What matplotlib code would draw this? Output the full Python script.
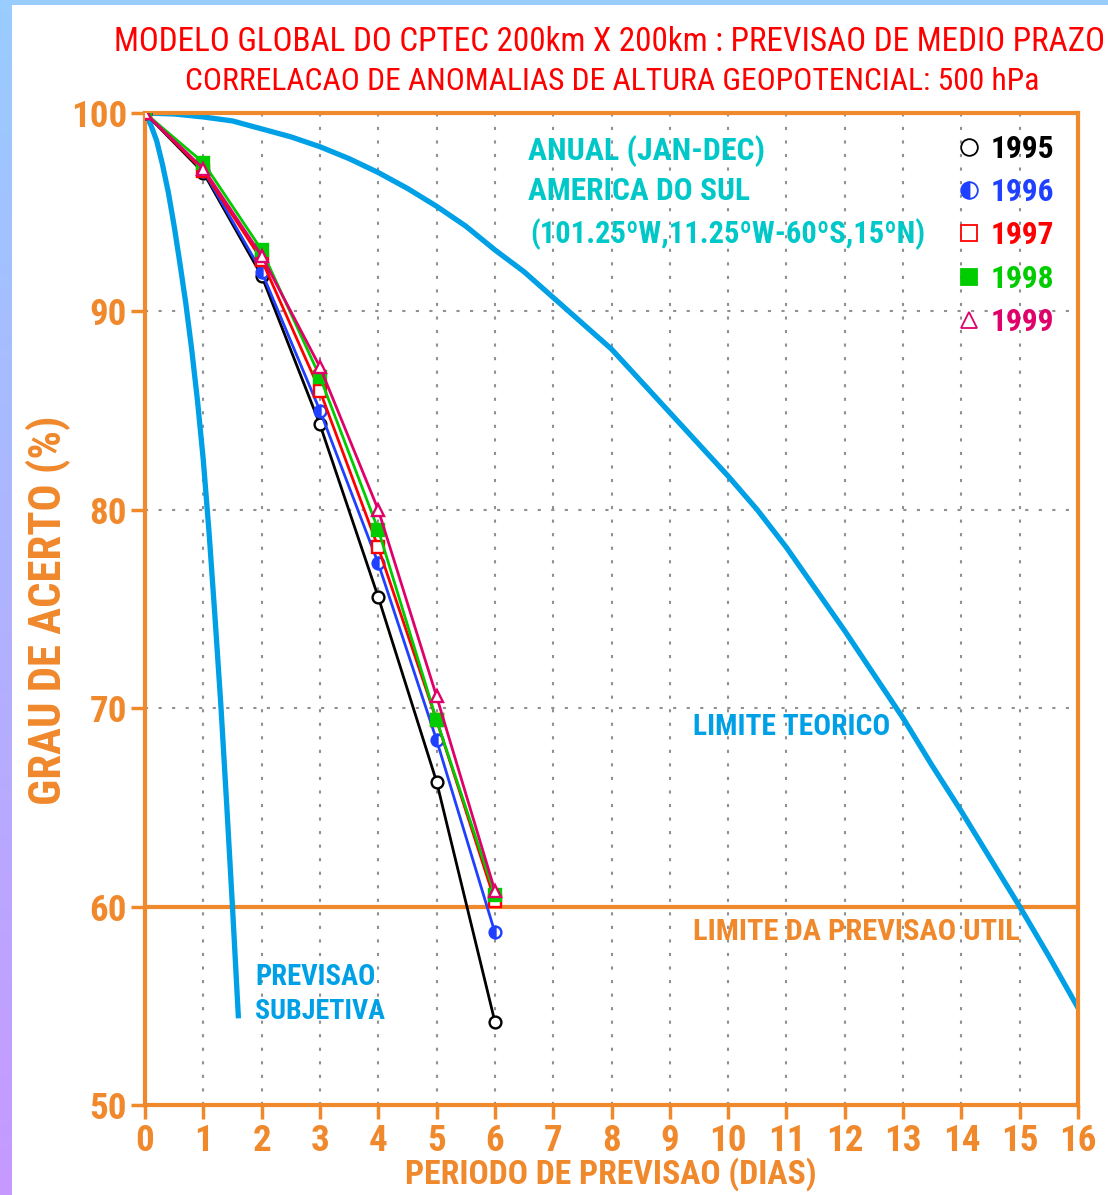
import numpy as np
import matplotlib
matplotlib.use('Agg')
import matplotlib.pyplot as plt
from matplotlib.lines import Line2D
from matplotlib import font_manager as fm

# prefer a narrow face if one is installed
names = {f.name for f in fm.fontManager.ttflist}
fam = [n for n in ['Liberation Sans Narrow', 'Roboto Condensed', 'DejaVu Sans Condensed'] if n in names]
plt.rcParams['font.family'] = fam + ['DejaVu Sans']
stretch = 'condensed' if any(f.name == 'DejaVu Sans' and f.stretch == 'condensed'
                             for f in fm.fontManager.ttflist) else 'normal'
plt.rcParams['font.stretch'] = stretch

ORANGE = '#f0882c'
SKY = '#00a0e6'

# forecast days and anomaly correlation (%) per year
days = [0, 1, 2, 3, 4, 5, 6]
acc_1995 = [100, 97.0, 91.8, 84.3, 75.6, 66.3, 54.2]
acc_1996 = [100, 97.1, 92.0, 85.0, 77.3, 68.4, 58.7]
acc_1997 = [100, 97.1, 92.6, 86.0, 78.1, 69.4, 60.3]
acc_1998 = [100, 97.5, 93.1, 86.7, 79.0, 69.4, 60.6]
acc_1999 = [100, 97.2, 92.8, 87.2, 80.0, 70.6, 60.8]

# theoretical limit curve
teo_x = [0, 0.5, 1, 1.5, 2, 2.5, 3, 3.5, 4, 4.5, 5, 5.5, 6, 6.5, 7, 7.5, 8, 8.5,
         9, 9.5, 10, 10.5, 11, 11.5, 12, 12.5, 13, 13.5, 14, 14.5, 15, 15.5, 16]
teo_y = [100, 99.95, 99.8, 99.6, 99.2, 98.8, 98.3, 97.7, 97.0, 96.2, 95.3, 94.3,
         93.1, 92.0, 90.7, 89.4, 88.1, 86.5, 84.9, 83.3, 81.7, 80.0, 78.1, 76.0,
         73.9, 71.7, 69.5, 67.1, 64.8, 62.4, 60.0, 57.5, 54.9]

# subjective forecast curve
sub_x = [0, 0.1, 0.2, 0.3, 0.4, 0.5, 0.6, 0.7, 0.8, 0.9, 1.0, 1.1, 1.2, 1.3, 1.4, 1.5, 1.6]
sub_y = [100, 99.4, 98.6, 97.4, 96.0, 94.3, 92.4, 90.4, 88.1, 85.5, 82.5, 78.8,
         74.6, 70.2, 65.2, 60.0, 54.5]

years = ['1995', '1996', '1997', '1998', '1999']
colors = ['#000000', '#2040ff', '#ff0000', '#00cc00', '#e0006a']
series = [acc_1995, acc_1996, acc_1997, acc_1998, acc_1999]
markers = [dict(marker='o', mfc='white'),
           dict(marker='o', fillstyle='left', mfcalt='white'),
           dict(marker='s', mfc='white'),
           dict(marker='s'),
           dict(marker='^', mfc='white')]

fig = plt.figure(figsize=(11.08, 11.95), dpi=100)
renderer = fig.canvas.get_renderer()


def fit(t, width_px, vertical=False):
    # scale a text's size so that it spans the wanted number of pixels
    bb = t.get_window_extent(renderer)
    w = bb.height if vertical else bb.width
    t.set_fontsize(t.get_fontsize() * width_px / w)
    return t


# gradient strips on left and top
bg = fig.add_axes([0, 0, 12/1108, 1])
bg.imshow(np.linspace(0, 1, 100).reshape(-1, 1), aspect='auto',
          cmap=matplotlib.colors.LinearSegmentedColormap.from_list('g', ['#99ccff', '#c699ff']))
bg.axis('off')
top = fig.add_axes([0, 1 - 5/1195, 1, 5/1195])
top.axis('off')
top.add_patch(plt.Rectangle((0, 0), 1, 1, color='#99ccff', transform=top.transAxes))

ax = fig.add_axes([145/1108, 90/1195, 933/1108, 992/1195])
ax.set_xlim(0, 16)
ax.set_ylim(50, 100)

for x in range(1, 16):
    ax.axvline(x, color='#909090', lw=1.5, ls=(0, (1.5, 5)), zorder=0)
for y in [70, 80, 90]:
    ax.axhline(y, color='#909090', lw=1.5, ls=(0, (1.5, 5)), zorder=0)
ax.axhline(60, color=ORANGE, lw=3, zorder=1)

ax.plot(teo_x, teo_y, color=SKY, lw=3.8, zorder=2, solid_joinstyle='round')
ax.plot(sub_x, sub_y, color=SKY, lw=3.8, zorder=2, solid_joinstyle='round')

handles = []
for vals, c, m in zip(series, colors, markers):
    ax.plot(days, vals, color=c, lw=2, ms=8.5, mec=c, mew=1.7, zorder=3, **m)
    handles.append(Line2D([], [], ls='none', color=c, mec=c, ms=12, mew=1.3, **m))

probe = fit(fig.text(0, 0, '1995', fontweight='bold', fontsize=20), 64)
legsize = probe.get_fontsize()
probe.remove()
ax.legend(handles, years, loc='upper left', bbox_to_anchor=(808/933, 1 - 21/992),
          frameon=False, borderpad=0, borderaxespad=0, handlelength=1.0,
          handletextpad=0.2, labelspacing=0.42, labelcolor=colors,
          prop=dict(size=legsize, weight='bold'))

for s in ax.spines.values():
    s.set_color(ORANGE)
    s.set_linewidth(3)
ax.set_xticks(range(0, 17))
ax.set_yticks([50, 60, 70, 80, 90, 100])
probe = fit(fig.text(0, 0, '100', fontweight='bold', fontsize=20), 56)
ticksize = probe.get_fontsize()
probe.remove()
ax.tick_params(colors=ORANGE, width=2.5, length=10, labelsize=ticksize, pad=3)
for lb in ax.get_xticklabels() + ax.get_yticklabels():
    lb.set_fontweight('bold')

fit(fig.text(611/1108, 1 - 1174/1195, 'PERIODO DE PREVISAO (DIAS)', color=ORANGE, fontsize=28,
             fontweight='bold', ha='center', va='center'), 413)
fit(fig.text(48/1108, 1 - 610/1195, 'GRAU DE ACERTO (%)', color=ORANGE, fontsize=28,
             fontweight='bold', ha='center', va='center', rotation=90), 390, vertical=True)

tcol = '#00c8c8'
kw = dict(fontweight='bold', va='center', fontsize=20)
fit(ax.text(6.57, 98.1, 'ANUAL (JAN-DEC)', color=tcol, **kw), 237)
fit(ax.text(6.57, 96.05, 'AMERICA DO SUL', color=tcol, **kw), 222)
fit(ax.text(6.6, 93.9, '(101.25ºW,11.25ºW-60ºS,15ºN)', color=tcol, **kw), 395)
fit(ax.text(9.4, 69.05, 'LIMITE TEORICO', color=SKY, **kw), 197)
fit(ax.text(9.4, 58.7, 'LIMITE DA PREVISAO UTIL', color=ORANGE, **kw), 327)
fit(ax.text(1.89, 56.45, 'PREVISAO', color=SKY, **kw), 120)
fit(ax.text(1.89, 54.7, 'SUBJETIVA', color=SKY, **kw), 130)

fit(fig.text(609/1108, 1 - 42/1195, 'MODELO GLOBAL DO CPTEC 200km X 200km : PREVISAO DE MEDIO PRAZO',
             color='#ff0000', fontsize=20, ha='center', va='center'), 992)
fit(fig.text(612/1108, 1 - 82/1195, 'CORRELACAO DE ANOMALIAS DE ALTURA GEOPOTENCIAL: 500 hPa',
             color='#ff0000', fontsize=20, ha='center', va='center'), 855)

fig.savefig('out.png', dpi=100)
